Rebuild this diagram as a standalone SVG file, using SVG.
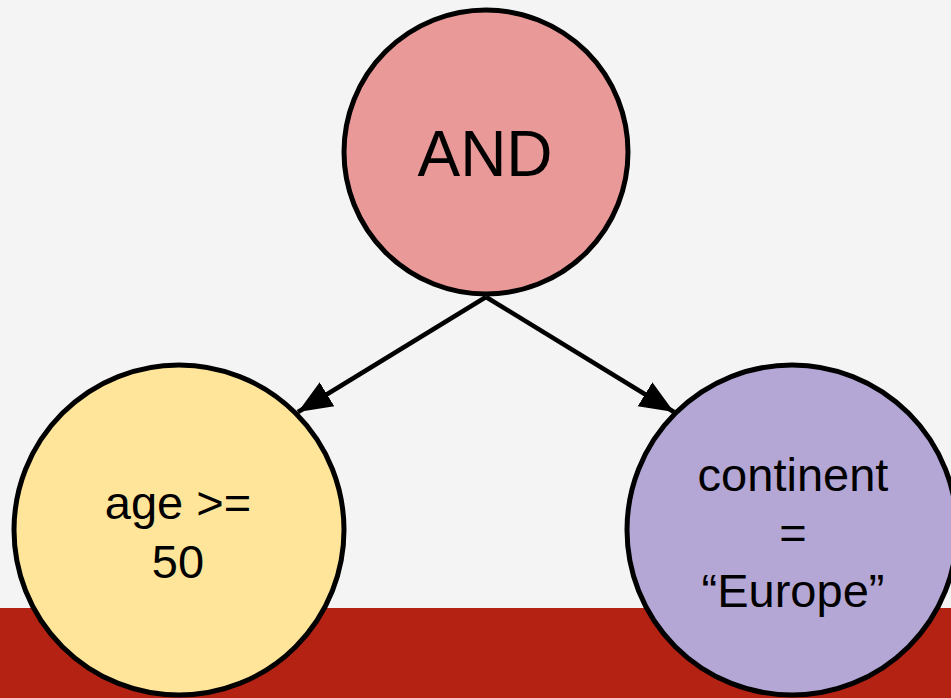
<svg xmlns="http://www.w3.org/2000/svg" width="951" height="698" viewBox="0 0 951 698">
  <defs>
    <marker id="arrow" markerUnits="userSpaceOnUse" markerWidth="36" markerHeight="32" viewBox="0 0 36 32" refX="34" refY="16" orient="auto">
      <path d="M0,2 L34,16 L0,30 Z" fill="#000"/>
    </marker>
    <style>
      .node { stroke: #000; stroke-width: 5; }
      .label { font-family: "Liberation Sans", Arial, sans-serif; fill: #000; text-anchor: middle; }
      .edge { stroke: #000; stroke-width: 4.5; fill: none; marker-end: url(#arrow); }
    </style>
  </defs>

  <!-- backdrop and bottom band -->
  <rect x="0" y="0" width="951" height="698" fill="#F4F4F4"/>
  <rect x="0" y="608" width="951" height="90" fill="#B32213"/>

  <!-- connectors -->
  <g id="edges">
    <line class="edge" x1="486" y1="297" x2="298" y2="412"/>
    <line class="edge" x1="486" y1="297" x2="674" y2="412"/>
  </g>

  <g id="node-and">
    <circle class="node" cx="486" cy="152" r="142" fill="#EA9999"/>
    <text class="label" x="485" y="176" font-size="64">AND</text>
  </g>

  <g id="node-age">
    <circle class="node" cx="179" cy="530" r="165" fill="#FFE599"/>
    <text class="label" x="178" y="519" font-size="47">age &gt;=</text>
    <text class="label" x="178" y="578" font-size="47">50</text>
  </g>

  <g id="node-continent">
    <circle class="node" cx="792" cy="530" r="165" fill="#B4A7D6"/>
    <text class="label" x="793" y="491" font-size="47">continent</text>
    <text class="label" x="793" y="549" font-size="47">=</text>
    <text class="label" x="793" y="607" font-size="47">“Europe”</text>
  </g>
</svg>
